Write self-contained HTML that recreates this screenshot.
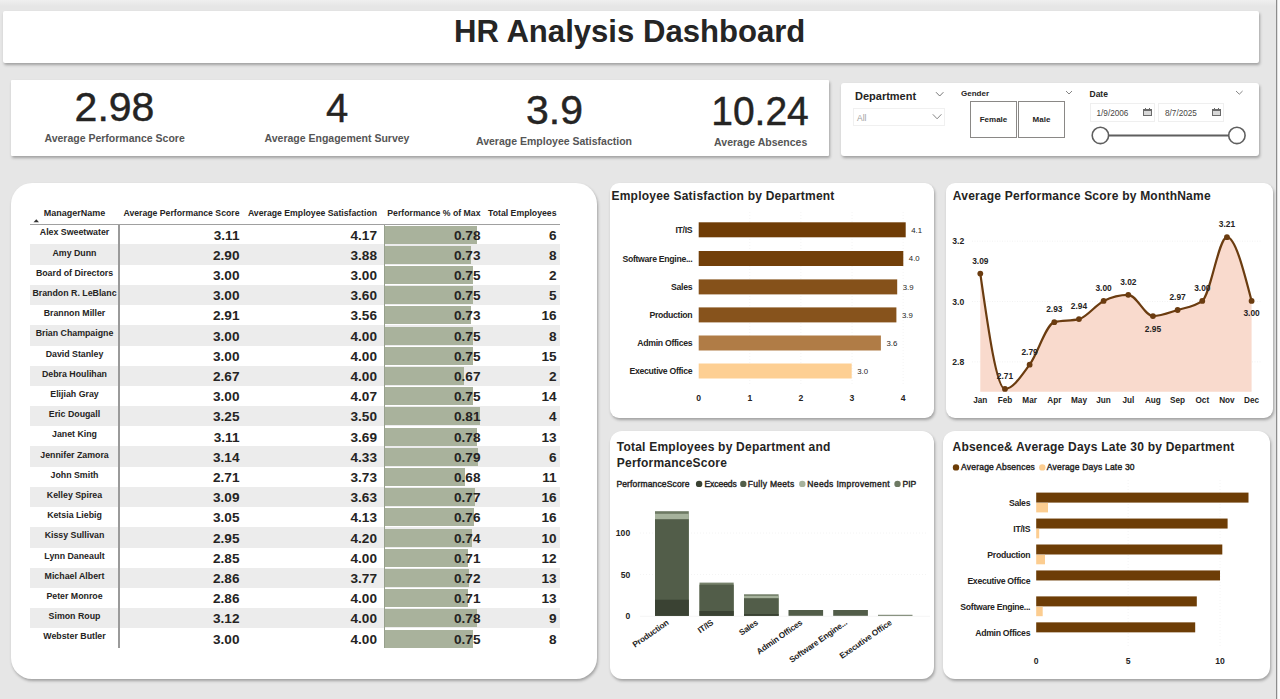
<!DOCTYPE html>
<html><head><meta charset="utf-8">
<style>
*{box-sizing:border-box;margin:0;padding:0}
html,body{width:1280px;height:699px;overflow:hidden}
body{background:#e6e6e6;font-family:"Liberation Sans",sans-serif;color:#252423;position:relative}
.a{position:absolute;white-space:nowrap}
.card{position:absolute;background:#fff;box-shadow:1px 2px 3px rgba(0,0,0,0.30)}
.b{font-weight:bold}
</style></head><body>
<div class="a" style="left:0;top:0;width:1276px;height:6px;background:linear-gradient(#efefef,#e6e6e6)"></div>
<div class="a" style="left:1276px;top:0;width:1px;height:699px;background:#8c8c8c"></div>
<div class="a" style="left:1277px;top:0;width:1px;height:699px;background:#e0e0e0"></div><div class="a" style="left:1278px;top:0;width:2px;height:699px;background:#fbfbfb"></div>

<!-- header -->
<div class="card" style="left:3px;top:11px;width:1256px;height:52px;border-radius:2px"></div>
<div class="a b" style="left:454px;top:14px;font-size:31.1px;line-height:36px;color:#252525">HR Analysis Dashboard</div>

<!-- KPI card -->
<div class="card" style="left:11px;top:80px;width:818px;height:76px;border-radius:1px"></div>

<!-- slicer card -->
<div class="card" style="left:841px;top:83.3px;width:417.5px;height:72.5px;border-radius:3px"></div>


<!-- KPI values -->
<div class="a" style="-webkit-text-stroke:0.45px #252423;left:114.5px;top:87.2px;font-size:41px;line-height:40px;color:#252423;transform:translateX(-50%)">2.98</div>
<div class="a b" style="left:114.6px;top:132px;font-size:10.5px;line-height:12px;color:#555;transform:translateX(-50%)">Average Performance Score</div>
<div class="a" style="-webkit-text-stroke:0.45px #252423;left:337px;top:87.5px;font-size:40px;line-height:40px;color:#252423;transform:translateX(-50%)">4</div>
<div class="a b" style="left:337px;top:132px;font-size:10.5px;line-height:12px;color:#555;transform:translateX(-50%)">Average Engagement Survey</div>
<div class="a" style="-webkit-text-stroke:0.45px #252423;left:554.5px;top:90px;font-size:41px;line-height:40px;color:#252423;transform:translateX(-50%)">3.9</div>
<div class="a b" style="left:554px;top:135px;font-size:10.5px;line-height:12px;color:#555;transform:translateX(-50%)">Average Employee Satisfaction</div>
<div class="a" style="-webkit-text-stroke:0.45px #252423;left:759.5px;top:91.2px;font-size:41.5px;line-height:40px;color:#252423;transform:translateX(-50%) scaleX(0.94)">10.24</div>
<div class="a b" style="left:760.7px;top:136px;font-size:10.5px;line-height:12px;color:#555;transform:translateX(-50%)">Average Absences</div>

<!-- slicers -->
<div class="a b" style="left:855px;top:89.5px;font-size:11px;line-height:12px;color:#252423">Department</div>
<svg class="a" style="left:930px;top:88px" width="20" height="12"><path d="M6 4.2 L9.7 8 L13.4 4.2" fill="none" stroke="#666" stroke-width="0.9"/></svg>
<div class="a" style="left:853px;top:107.5px;width:92px;height:18px;border:1px solid #f0f0f0"></div>
<div class="a" style="left:857px;top:113px;font-size:8.5px;line-height:10px;color:#a0a0a0">All</div>
<svg class="a" style="left:930px;top:110px" width="14" height="12"><path d="M2.8 4.3 L7.1 8.8 L11.4 4.3" fill="none" stroke="#777" stroke-width="0.9"/></svg>

<div class="a b" style="left:961px;top:88.5px;font-size:8px;line-height:10px;color:#252423">Gender</div>
<svg class="a" style="left:1062px;top:88px" width="14" height="10"><path d="M4 3 L7 6 L10 3" fill="none" stroke="#777" stroke-width="0.9"/></svg>
<div class="a" style="left:970px;top:101px;width:47px;height:36.5px;border:1px solid #8a8886"></div>
<div class="a b" style="left:970px;top:114.8px;width:47px;text-align:center;font-size:8px;line-height:10px;color:#252423">Female</div>
<div class="a" style="left:1018px;top:101px;width:47px;height:36.5px;border:1px solid #8a8886"></div>
<div class="a b" style="left:1018px;top:114.8px;width:47px;text-align:center;font-size:8px;line-height:10px;color:#252423">Male</div>

<div class="a b" style="left:1089.5px;top:89px;font-size:8.5px;line-height:10px;color:#252423">Date</div>
<svg class="a" style="left:1232px;top:88px" width="14" height="10"><path d="M4 3 L7.3 6.2 L10.6 3" fill="none" stroke="#777" stroke-width="0.9"/></svg>
<div class="a" style="left:1089.5px;top:103px;width:65px;height:18.5px;border:1px solid #efefef"></div>
<div class="a" style="left:1096.5px;top:108.5px;font-size:8.2px;line-height:10px;color:#484644">1/9/2006</div>
<svg class="a" style="left:1143px;top:108px" width="9" height="8"><rect x="1" y="3" width="7" height="4" fill="#d8d8d8"/><rect x="0.5" y="1.5" width="8" height="6" fill="none" stroke="#6a6a6a" stroke-width="1"/><rect x="0" y="1" width="9" height="2" fill="#6a6a6a"/><rect x="2" y="0" width="1" height="1.5" fill="#6a6a6a"/><rect x="6" y="0" width="1" height="1.5" fill="#6a6a6a"/></svg>
<div class="a" style="left:1158px;top:103px;width:65.5px;height:18.5px;border:1px solid #efefef"></div>
<div class="a" style="left:1165px;top:108.5px;font-size:8.2px;line-height:10px;color:#484644">8/7/2025</div>
<svg class="a" style="left:1211.5px;top:108px" width="9" height="8"><rect x="1" y="3" width="7" height="4" fill="#d8d8d8"/><rect x="0.5" y="1.5" width="8" height="6" fill="none" stroke="#6a6a6a" stroke-width="1"/><rect x="0" y="1" width="9" height="2" fill="#6a6a6a"/><rect x="2" y="0" width="1" height="1.5" fill="#6a6a6a"/><rect x="6" y="0" width="1" height="1.5" fill="#6a6a6a"/></svg>
<svg class="a" style="left:1088px;top:124px" width="162" height="24"><line x1="20.4" y1="11.4" x2="140.9" y2="11.4" stroke="#5f5f5f" stroke-width="2"/><circle cx="12.4" cy="11.4" r="8.2" fill="#fff" stroke="#5f5f5f" stroke-width="1.6"/><circle cx="148.9" cy="11.4" r="8.2" fill="#fff" stroke="#5f5f5f" stroke-width="1.6"/></svg>

<!-- table card -->
<div class="card" style="left:11px;top:183px;width:585.6px;height:496.4px;border-radius:21px"></div>

<!-- table -->
<div class="a b" style="left:30px;top:207.5px;width:89px;text-align:center;font-size:9px;line-height:10px;color:#252423">ManagerName</div>
<svg class="a" style="left:33px;top:218.5px" width="7" height="4"><path d="M0.5 3.3 L3.3 0.3 L6 3.3 Z" fill="#333"/></svg>
<div class="a b" style="right:1040.5px;top:207.5px;font-size:8.7px;line-height:10px;color:#252423">Average Performance Score</div>
<div class="a b" style="right:903px;top:207.5px;font-size:8.7px;line-height:10px;color:#252423">Average Employee Satisfaction</div>
<div class="a b" style="right:799.5px;top:207.5px;font-size:8.7px;line-height:10px;color:#252423">Performance % of Max</div>
<div class="a b" style="right:723.5px;top:207.5px;font-size:8.7px;line-height:10px;color:#252423">Total Employees</div>
<div class="a" style="left:30px;top:244.3px;width:530px;height:20.5px;background:#ececec"></div>
<div class="a" style="left:30px;top:284.7px;width:530px;height:20.5px;background:#ececec"></div>
<div class="a" style="left:30px;top:325.1px;width:530px;height:20.5px;background:#ececec"></div>
<div class="a" style="left:30px;top:365.5px;width:530px;height:20.5px;background:#ececec"></div>
<div class="a" style="left:30px;top:405.9px;width:530px;height:20.5px;background:#ececec"></div>
<div class="a" style="left:30px;top:446.3px;width:530px;height:20.5px;background:#ececec"></div>
<div class="a" style="left:30px;top:486.7px;width:530px;height:20.5px;background:#ececec"></div>
<div class="a" style="left:30px;top:527.1px;width:530px;height:20.5px;background:#ececec"></div>
<div class="a" style="left:30px;top:567.5px;width:530px;height:20.5px;background:#ececec"></div>
<div class="a" style="left:30px;top:607.9px;width:530px;height:20.5px;background:#ececec"></div>
<div class="a" style="left:384.2px;top:225.6px;width:92.4px;height:18px;background:#a9b29c"></div>
<div class="a" style="left:384.2px;top:245.8px;width:86.5px;height:18px;background:#a9b29c"></div>
<div class="a" style="left:384.2px;top:266.0px;width:88.9px;height:18px;background:#a9b29c"></div>
<div class="a" style="left:384.2px;top:286.2px;width:88.9px;height:18px;background:#a9b29c"></div>
<div class="a" style="left:384.2px;top:306.4px;width:86.5px;height:18px;background:#a9b29c"></div>
<div class="a" style="left:384.2px;top:326.6px;width:88.9px;height:18px;background:#a9b29c"></div>
<div class="a" style="left:384.2px;top:346.8px;width:88.9px;height:18px;background:#a9b29c"></div>
<div class="a" style="left:384.2px;top:367.0px;width:79.4px;height:18px;background:#a9b29c"></div>
<div class="a" style="left:384.2px;top:387.2px;width:88.9px;height:18px;background:#a9b29c"></div>
<div class="a" style="left:384.2px;top:407.4px;width:96.0px;height:18px;background:#a9b29c"></div>
<div class="a" style="left:384.2px;top:427.6px;width:92.4px;height:18px;background:#a9b29c"></div>
<div class="a" style="left:384.2px;top:447.8px;width:93.6px;height:18px;background:#a9b29c"></div>
<div class="a" style="left:384.2px;top:468.0px;width:80.6px;height:18px;background:#a9b29c"></div>
<div class="a" style="left:384.2px;top:488.2px;width:91.3px;height:18px;background:#a9b29c"></div>
<div class="a" style="left:384.2px;top:508.4px;width:90.1px;height:18px;background:#a9b29c"></div>
<div class="a" style="left:384.2px;top:528.6px;width:87.7px;height:18px;background:#a9b29c"></div>
<div class="a" style="left:384.2px;top:548.8px;width:84.1px;height:18px;background:#a9b29c"></div>
<div class="a" style="left:384.2px;top:569.0px;width:85.3px;height:18px;background:#a9b29c"></div>
<div class="a" style="left:384.2px;top:589.2px;width:84.1px;height:18px;background:#a9b29c"></div>
<div class="a" style="left:384.2px;top:609.4px;width:92.4px;height:18px;background:#a9b29c"></div>
<div class="a" style="left:384.2px;top:629.6px;width:88.9px;height:18px;background:#a9b29c"></div>
<div class="a b" style="left:30px;top:227.4px;width:89px;text-align:center;font-size:8.8px;line-height:10px;color:#252423">Alex Sweetwater</div>
<div class="a b" style="right:1040.5px;top:228.6px;font-size:13.6px;line-height:14px;color:#252423">3.11</div>
<div class="a b" style="right:903px;top:228.6px;font-size:13.6px;line-height:14px;color:#252423">4.17</div>
<div class="a b" style="right:799.5px;top:228.6px;font-size:13.6px;line-height:14px;color:#252423">0.78</div>
<div class="a b" style="right:723.5px;top:228.6px;font-size:13.6px;line-height:14px;color:#252423">6</div>
<div class="a b" style="left:30px;top:247.6px;width:89px;text-align:center;font-size:8.8px;line-height:10px;color:#252423">Amy Dunn</div>
<div class="a b" style="right:1040.5px;top:248.8px;font-size:13.6px;line-height:14px;color:#252423">2.90</div>
<div class="a b" style="right:903px;top:248.8px;font-size:13.6px;line-height:14px;color:#252423">3.88</div>
<div class="a b" style="right:799.5px;top:248.8px;font-size:13.6px;line-height:14px;color:#252423">0.73</div>
<div class="a b" style="right:723.5px;top:248.8px;font-size:13.6px;line-height:14px;color:#252423">8</div>
<div class="a b" style="left:30px;top:267.8px;width:89px;text-align:center;font-size:8.8px;line-height:10px;color:#252423">Board of Directors</div>
<div class="a b" style="right:1040.5px;top:269.0px;font-size:13.6px;line-height:14px;color:#252423">3.00</div>
<div class="a b" style="right:903px;top:269.0px;font-size:13.6px;line-height:14px;color:#252423">3.00</div>
<div class="a b" style="right:799.5px;top:269.0px;font-size:13.6px;line-height:14px;color:#252423">0.75</div>
<div class="a b" style="right:723.5px;top:269.0px;font-size:13.6px;line-height:14px;color:#252423">2</div>
<div class="a b" style="left:30px;top:288.0px;width:89px;text-align:center;font-size:8.8px;line-height:10px;color:#252423">Brandon R. LeBlanc</div>
<div class="a b" style="right:1040.5px;top:289.2px;font-size:13.6px;line-height:14px;color:#252423">3.00</div>
<div class="a b" style="right:903px;top:289.2px;font-size:13.6px;line-height:14px;color:#252423">3.60</div>
<div class="a b" style="right:799.5px;top:289.2px;font-size:13.6px;line-height:14px;color:#252423">0.75</div>
<div class="a b" style="right:723.5px;top:289.2px;font-size:13.6px;line-height:14px;color:#252423">5</div>
<div class="a b" style="left:30px;top:308.2px;width:89px;text-align:center;font-size:8.8px;line-height:10px;color:#252423">Brannon Miller</div>
<div class="a b" style="right:1040.5px;top:309.4px;font-size:13.6px;line-height:14px;color:#252423">2.91</div>
<div class="a b" style="right:903px;top:309.4px;font-size:13.6px;line-height:14px;color:#252423">3.56</div>
<div class="a b" style="right:799.5px;top:309.4px;font-size:13.6px;line-height:14px;color:#252423">0.73</div>
<div class="a b" style="right:723.5px;top:309.4px;font-size:13.6px;line-height:14px;color:#252423">16</div>
<div class="a b" style="left:30px;top:328.4px;width:89px;text-align:center;font-size:8.8px;line-height:10px;color:#252423">Brian Champaigne</div>
<div class="a b" style="right:1040.5px;top:329.6px;font-size:13.6px;line-height:14px;color:#252423">3.00</div>
<div class="a b" style="right:903px;top:329.6px;font-size:13.6px;line-height:14px;color:#252423">4.00</div>
<div class="a b" style="right:799.5px;top:329.6px;font-size:13.6px;line-height:14px;color:#252423">0.75</div>
<div class="a b" style="right:723.5px;top:329.6px;font-size:13.6px;line-height:14px;color:#252423">8</div>
<div class="a b" style="left:30px;top:348.6px;width:89px;text-align:center;font-size:8.8px;line-height:10px;color:#252423">David Stanley</div>
<div class="a b" style="right:1040.5px;top:349.8px;font-size:13.6px;line-height:14px;color:#252423">3.00</div>
<div class="a b" style="right:903px;top:349.8px;font-size:13.6px;line-height:14px;color:#252423">4.00</div>
<div class="a b" style="right:799.5px;top:349.8px;font-size:13.6px;line-height:14px;color:#252423">0.75</div>
<div class="a b" style="right:723.5px;top:349.8px;font-size:13.6px;line-height:14px;color:#252423">15</div>
<div class="a b" style="left:30px;top:368.8px;width:89px;text-align:center;font-size:8.8px;line-height:10px;color:#252423">Debra Houlihan</div>
<div class="a b" style="right:1040.5px;top:370.0px;font-size:13.6px;line-height:14px;color:#252423">2.67</div>
<div class="a b" style="right:903px;top:370.0px;font-size:13.6px;line-height:14px;color:#252423">4.00</div>
<div class="a b" style="right:799.5px;top:370.0px;font-size:13.6px;line-height:14px;color:#252423">0.67</div>
<div class="a b" style="right:723.5px;top:370.0px;font-size:13.6px;line-height:14px;color:#252423">2</div>
<div class="a b" style="left:30px;top:389.0px;width:89px;text-align:center;font-size:8.8px;line-height:10px;color:#252423">Elijiah Gray</div>
<div class="a b" style="right:1040.5px;top:390.2px;font-size:13.6px;line-height:14px;color:#252423">3.00</div>
<div class="a b" style="right:903px;top:390.2px;font-size:13.6px;line-height:14px;color:#252423">4.07</div>
<div class="a b" style="right:799.5px;top:390.2px;font-size:13.6px;line-height:14px;color:#252423">0.75</div>
<div class="a b" style="right:723.5px;top:390.2px;font-size:13.6px;line-height:14px;color:#252423">14</div>
<div class="a b" style="left:30px;top:409.2px;width:89px;text-align:center;font-size:8.8px;line-height:10px;color:#252423">Eric Dougall</div>
<div class="a b" style="right:1040.5px;top:410.4px;font-size:13.6px;line-height:14px;color:#252423">3.25</div>
<div class="a b" style="right:903px;top:410.4px;font-size:13.6px;line-height:14px;color:#252423">3.50</div>
<div class="a b" style="right:799.5px;top:410.4px;font-size:13.6px;line-height:14px;color:#252423">0.81</div>
<div class="a b" style="right:723.5px;top:410.4px;font-size:13.6px;line-height:14px;color:#252423">4</div>
<div class="a b" style="left:30px;top:429.4px;width:89px;text-align:center;font-size:8.8px;line-height:10px;color:#252423">Janet King</div>
<div class="a b" style="right:1040.5px;top:430.6px;font-size:13.6px;line-height:14px;color:#252423">3.11</div>
<div class="a b" style="right:903px;top:430.6px;font-size:13.6px;line-height:14px;color:#252423">3.69</div>
<div class="a b" style="right:799.5px;top:430.6px;font-size:13.6px;line-height:14px;color:#252423">0.78</div>
<div class="a b" style="right:723.5px;top:430.6px;font-size:13.6px;line-height:14px;color:#252423">13</div>
<div class="a b" style="left:30px;top:449.6px;width:89px;text-align:center;font-size:8.8px;line-height:10px;color:#252423">Jennifer Zamora</div>
<div class="a b" style="right:1040.5px;top:450.8px;font-size:13.6px;line-height:14px;color:#252423">3.14</div>
<div class="a b" style="right:903px;top:450.8px;font-size:13.6px;line-height:14px;color:#252423">4.33</div>
<div class="a b" style="right:799.5px;top:450.8px;font-size:13.6px;line-height:14px;color:#252423">0.79</div>
<div class="a b" style="right:723.5px;top:450.8px;font-size:13.6px;line-height:14px;color:#252423">6</div>
<div class="a b" style="left:30px;top:469.8px;width:89px;text-align:center;font-size:8.8px;line-height:10px;color:#252423">John Smith</div>
<div class="a b" style="right:1040.5px;top:471.0px;font-size:13.6px;line-height:14px;color:#252423">2.71</div>
<div class="a b" style="right:903px;top:471.0px;font-size:13.6px;line-height:14px;color:#252423">3.73</div>
<div class="a b" style="right:799.5px;top:471.0px;font-size:13.6px;line-height:14px;color:#252423">0.68</div>
<div class="a b" style="right:723.5px;top:471.0px;font-size:13.6px;line-height:14px;color:#252423">11</div>
<div class="a b" style="left:30px;top:490.0px;width:89px;text-align:center;font-size:8.8px;line-height:10px;color:#252423">Kelley Spirea</div>
<div class="a b" style="right:1040.5px;top:491.2px;font-size:13.6px;line-height:14px;color:#252423">3.09</div>
<div class="a b" style="right:903px;top:491.2px;font-size:13.6px;line-height:14px;color:#252423">3.63</div>
<div class="a b" style="right:799.5px;top:491.2px;font-size:13.6px;line-height:14px;color:#252423">0.77</div>
<div class="a b" style="right:723.5px;top:491.2px;font-size:13.6px;line-height:14px;color:#252423">16</div>
<div class="a b" style="left:30px;top:510.2px;width:89px;text-align:center;font-size:8.8px;line-height:10px;color:#252423">Ketsia Liebig</div>
<div class="a b" style="right:1040.5px;top:511.4px;font-size:13.6px;line-height:14px;color:#252423">3.05</div>
<div class="a b" style="right:903px;top:511.4px;font-size:13.6px;line-height:14px;color:#252423">4.13</div>
<div class="a b" style="right:799.5px;top:511.4px;font-size:13.6px;line-height:14px;color:#252423">0.76</div>
<div class="a b" style="right:723.5px;top:511.4px;font-size:13.6px;line-height:14px;color:#252423">16</div>
<div class="a b" style="left:30px;top:530.4px;width:89px;text-align:center;font-size:8.8px;line-height:10px;color:#252423">Kissy Sullivan</div>
<div class="a b" style="right:1040.5px;top:531.6px;font-size:13.6px;line-height:14px;color:#252423">2.95</div>
<div class="a b" style="right:903px;top:531.6px;font-size:13.6px;line-height:14px;color:#252423">4.20</div>
<div class="a b" style="right:799.5px;top:531.6px;font-size:13.6px;line-height:14px;color:#252423">0.74</div>
<div class="a b" style="right:723.5px;top:531.6px;font-size:13.6px;line-height:14px;color:#252423">10</div>
<div class="a b" style="left:30px;top:550.6px;width:89px;text-align:center;font-size:8.8px;line-height:10px;color:#252423">Lynn Daneault</div>
<div class="a b" style="right:1040.5px;top:551.8px;font-size:13.6px;line-height:14px;color:#252423">2.85</div>
<div class="a b" style="right:903px;top:551.8px;font-size:13.6px;line-height:14px;color:#252423">4.00</div>
<div class="a b" style="right:799.5px;top:551.8px;font-size:13.6px;line-height:14px;color:#252423">0.71</div>
<div class="a b" style="right:723.5px;top:551.8px;font-size:13.6px;line-height:14px;color:#252423">12</div>
<div class="a b" style="left:30px;top:570.8px;width:89px;text-align:center;font-size:8.8px;line-height:10px;color:#252423">Michael Albert</div>
<div class="a b" style="right:1040.5px;top:572.0px;font-size:13.6px;line-height:14px;color:#252423">2.86</div>
<div class="a b" style="right:903px;top:572.0px;font-size:13.6px;line-height:14px;color:#252423">3.77</div>
<div class="a b" style="right:799.5px;top:572.0px;font-size:13.6px;line-height:14px;color:#252423">0.72</div>
<div class="a b" style="right:723.5px;top:572.0px;font-size:13.6px;line-height:14px;color:#252423">13</div>
<div class="a b" style="left:30px;top:591.0px;width:89px;text-align:center;font-size:8.8px;line-height:10px;color:#252423">Peter Monroe</div>
<div class="a b" style="right:1040.5px;top:592.2px;font-size:13.6px;line-height:14px;color:#252423">2.86</div>
<div class="a b" style="right:903px;top:592.2px;font-size:13.6px;line-height:14px;color:#252423">4.00</div>
<div class="a b" style="right:799.5px;top:592.2px;font-size:13.6px;line-height:14px;color:#252423">0.71</div>
<div class="a b" style="right:723.5px;top:592.2px;font-size:13.6px;line-height:14px;color:#252423">13</div>
<div class="a b" style="left:30px;top:611.2px;width:89px;text-align:center;font-size:8.8px;line-height:10px;color:#252423">Simon Roup</div>
<div class="a b" style="right:1040.5px;top:612.4px;font-size:13.6px;line-height:14px;color:#252423">3.12</div>
<div class="a b" style="right:903px;top:612.4px;font-size:13.6px;line-height:14px;color:#252423">4.00</div>
<div class="a b" style="right:799.5px;top:612.4px;font-size:13.6px;line-height:14px;color:#252423">0.78</div>
<div class="a b" style="right:723.5px;top:612.4px;font-size:13.6px;line-height:14px;color:#252423">9</div>
<div class="a b" style="left:30px;top:631.4px;width:89px;text-align:center;font-size:8.8px;line-height:10px;color:#252423">Webster Butler</div>
<div class="a b" style="right:1040.5px;top:632.6px;font-size:13.6px;line-height:14px;color:#252423">3.00</div>
<div class="a b" style="right:903px;top:632.6px;font-size:13.6px;line-height:14px;color:#252423">4.00</div>
<div class="a b" style="right:799.5px;top:632.6px;font-size:13.6px;line-height:14px;color:#252423">0.75</div>
<div class="a b" style="right:723.5px;top:632.6px;font-size:13.6px;line-height:14px;color:#252423">8</div>
<div class="a" style="left:30px;top:224px;width:530px;height:1px;background:#a0a0a0"></div>
<div class="a" style="left:383.8px;top:225px;width:1px;height:423px;background:#97a08d"></div>
<div class="a" style="left:118.3px;top:224.5px;width:1.5px;height:423.3px;background:#9a9a9a"></div>
<!-- /table -->
<!-- chart cards -->
<div class="card" style="left:609.5px;top:183px;width:324.5px;height:235px;border-radius:9px"></div>
<div class="card" style="left:946px;top:183px;width:326.8px;height:235px;border-radius:9px"></div>
<div class="card" style="left:609.5px;top:431px;width:324.5px;height:248px;border-radius:12px"></div>
<div class="card" style="left:943px;top:431px;width:327px;height:248px;border-radius:12px"></div>

<!-- charts -->
<svg class="a" style="left:0;top:0" width="1280" height="699" viewBox="0 0 1280 699">
<text x="611.5" y="200.0" font-size="12" font-weight="bold" text-anchor="start" fill="#252423" letter-spacing="0.22">Employee Satisfaction by Department</text>
<line x1="749.8" y1="212" x2="749.8" y2="386" stroke="#f4f4f4" stroke-width="1" stroke-dasharray="1,2"/>
<line x1="800.9" y1="212" x2="800.9" y2="386" stroke="#f4f4f4" stroke-width="1" stroke-dasharray="1,2"/>
<line x1="852.0" y1="212" x2="852.0" y2="386" stroke="#f4f4f4" stroke-width="1" stroke-dasharray="1,2"/>
<line x1="903.1" y1="212" x2="903.1" y2="386" stroke="#f4f4f4" stroke-width="1" stroke-dasharray="1,2"/>
<rect x="698.7" y="222.3" width="207.0" height="15" fill="#6f3c06"/>
<text x="692.3" y="232.8" font-size="8.7" font-weight="bold" text-anchor="end" fill="#252423" letter-spacing="-0.3">IT/IS</text>
<text x="911.2" y="232.5" font-size="7.8"  text-anchor="start" fill="#252423" >4.1</text>
<rect x="698.7" y="251" width="204.6" height="15" fill="#723f09"/>
<text x="692.3" y="261.5" font-size="8.7" font-weight="bold" text-anchor="end" fill="#252423" letter-spacing="-0.3">Software Engine...</text>
<text x="908.8" y="261.2" font-size="7.8"  text-anchor="start" fill="#252423" >4.0</text>
<rect x="698.7" y="279.4" width="198.5" height="15" fill="#85511a"/>
<text x="692.3" y="289.9" font-size="8.7" font-weight="bold" text-anchor="end" fill="#252423" letter-spacing="-0.3">Sales</text>
<text x="902.7" y="289.6" font-size="7.8"  text-anchor="start" fill="#252423" >3.9</text>
<rect x="698.7" y="307.4" width="197.7" height="15" fill="#87531c"/>
<text x="692.3" y="317.9" font-size="8.7" font-weight="bold" text-anchor="end" fill="#252423" letter-spacing="-0.3">Production</text>
<text x="901.9" y="317.6" font-size="7.8"  text-anchor="start" fill="#252423" >3.9</text>
<rect x="698.7" y="335.5" width="182.2" height="15" fill="#b07c46"/>
<text x="692.3" y="346.0" font-size="8.7" font-weight="bold" text-anchor="end" fill="#252423" letter-spacing="-0.3">Admin Offices</text>
<text x="886.4" y="345.7" font-size="7.8"  text-anchor="start" fill="#252423" >3.6</text>
<rect x="698.7" y="363.5" width="153.0" height="15" fill="#fdcf93"/>
<text x="692.3" y="374.0" font-size="8.7" font-weight="bold" text-anchor="end" fill="#252423" letter-spacing="-0.3">Executive Office</text>
<text x="857.2" y="373.7" font-size="7.8"  text-anchor="start" fill="#252423" >3.0</text>
<text x="698.7" y="401.3" font-size="8.6" font-weight="bold" text-anchor="middle" fill="#252423" >0</text>
<text x="749.8" y="401.3" font-size="8.6" font-weight="bold" text-anchor="middle" fill="#252423" >1</text>
<text x="800.9" y="401.3" font-size="8.6" font-weight="bold" text-anchor="middle" fill="#252423" >2</text>
<text x="852.0" y="401.3" font-size="8.6" font-weight="bold" text-anchor="middle" fill="#252423" >3</text>
<text x="903.1" y="401.3" font-size="8.6" font-weight="bold" text-anchor="middle" fill="#252423" >4</text>
<text x="952.8" y="200.0" font-size="12" font-weight="bold" text-anchor="start" fill="#252423" letter-spacing="0.22">Average Performance Score by MonthName</text>
<line x1="972" y1="241.2" x2="1262" y2="241.2" stroke="#f2f2f2" stroke-width="1" stroke-dasharray="1,1.5"/>
<text x="952.3" y="244.3" font-size="8.6" font-weight="bold" text-anchor="start" fill="#252423" >3.2</text>
<line x1="972" y1="301.5" x2="1262" y2="301.5" stroke="#f2f2f2" stroke-width="1" stroke-dasharray="1,1.5"/>
<text x="952.3" y="304.6" font-size="8.6" font-weight="bold" text-anchor="start" fill="#252423" >3.0</text>
<line x1="972" y1="361.9" x2="1262" y2="361.9" stroke="#f2f2f2" stroke-width="1" stroke-dasharray="1,1.5"/>
<text x="952.3" y="365.0" font-size="8.6" font-weight="bold" text-anchor="start" fill="#252423" >2.8</text>
<path d="M980.30,273.59 C988.52,331.25 996.74,388.91 1004.96,388.91 C1013.18,388.91 1021.41,375.76 1029.63,364.63 C1037.85,353.51 1046.07,324.17 1054.29,322.14 C1062.51,320.12 1070.73,321.13 1078.95,319.11 C1087.18,317.09 1095.40,304.95 1103.62,300.90 C1111.84,296.85 1120.06,294.83 1128.28,294.83 C1136.50,294.83 1144.72,316.07 1152.95,316.07 C1161.17,316.07 1169.39,312.53 1177.61,310.00 C1185.83,307.48 1194.05,306.97 1202.27,300.90 C1210.49,294.83 1218.72,237.16 1226.94,237.16 C1235.16,237.16 1243.38,269.03 1251.60,300.90 L1251.60,391.8 L980.30,391.8 Z" fill="#f9dacd"/>
<path d="M980.30,273.59 C988.52,331.25 996.74,388.91 1004.96,388.91 C1013.18,388.91 1021.41,375.76 1029.63,364.63 C1037.85,353.51 1046.07,324.17 1054.29,322.14 C1062.51,320.12 1070.73,321.13 1078.95,319.11 C1087.18,317.09 1095.40,304.95 1103.62,300.90 C1111.84,296.85 1120.06,294.83 1128.28,294.83 C1136.50,294.83 1144.72,316.07 1152.95,316.07 C1161.17,316.07 1169.39,312.53 1177.61,310.00 C1185.83,307.48 1194.05,306.97 1202.27,300.90 C1210.49,294.83 1218.72,237.16 1226.94,237.16 C1235.16,237.16 1243.38,269.03 1251.60,300.90" fill="none" stroke="#6b3c10" stroke-width="2.2" stroke-linejoin="round"/>
<circle cx="980.30" cy="273.59" r="2.9" fill="#6b3c10"/>
<circle cx="1004.96" cy="388.91" r="2.9" fill="#6b3c10"/>
<circle cx="1029.63" cy="364.63" r="2.9" fill="#6b3c10"/>
<circle cx="1054.29" cy="322.14" r="2.9" fill="#6b3c10"/>
<circle cx="1078.95" cy="319.11" r="2.9" fill="#6b3c10"/>
<circle cx="1103.62" cy="300.90" r="2.9" fill="#6b3c10"/>
<circle cx="1128.28" cy="294.83" r="2.9" fill="#6b3c10"/>
<circle cx="1152.95" cy="316.07" r="2.9" fill="#6b3c10"/>
<circle cx="1177.61" cy="310.00" r="2.9" fill="#6b3c10"/>
<circle cx="1202.27" cy="300.90" r="2.9" fill="#6b3c10"/>
<circle cx="1226.94" cy="237.16" r="2.9" fill="#6b3c10"/>
<circle cx="1251.60" cy="300.90" r="2.9" fill="#6b3c10"/>
<text x="980.3" y="263.8" font-size="8.4" font-weight="bold" text-anchor="middle" fill="#252423" >3.09</text>
<text x="1005.0" y="379.1" font-size="8.4" font-weight="bold" text-anchor="middle" fill="#252423" >2.71</text>
<text x="1029.6" y="354.8" font-size="8.4" font-weight="bold" text-anchor="middle" fill="#252423" >2.79</text>
<text x="1054.3" y="312.3" font-size="8.4" font-weight="bold" text-anchor="middle" fill="#252423" >2.93</text>
<text x="1079.0" y="309.3" font-size="8.4" font-weight="bold" text-anchor="middle" fill="#252423" >2.94</text>
<text x="1103.6" y="291.1" font-size="8.4" font-weight="bold" text-anchor="middle" fill="#252423" >3.00</text>
<text x="1128.3" y="285.0" font-size="8.4" font-weight="bold" text-anchor="middle" fill="#252423" >3.02</text>
<text x="1152.9" y="331.5" font-size="8.4" font-weight="bold" text-anchor="middle" fill="#252423" >2.95</text>
<text x="1177.6" y="300.2" font-size="8.4" font-weight="bold" text-anchor="middle" fill="#252423" >2.97</text>
<text x="1202.3" y="291.1" font-size="8.4" font-weight="bold" text-anchor="middle" fill="#252423" >3.00</text>
<text x="1226.9" y="227.4" font-size="8.4" font-weight="bold" text-anchor="middle" fill="#252423" >3.21</text>
<text x="1251.6" y="316.3" font-size="8.4" font-weight="bold" text-anchor="middle" fill="#252423" >3.00</text>
<text x="980.3" y="402.7" font-size="8.2" font-weight="bold" text-anchor="middle" fill="#252423" >Jan</text>
<text x="1005.0" y="402.7" font-size="8.2" font-weight="bold" text-anchor="middle" fill="#252423" >Feb</text>
<text x="1029.6" y="402.7" font-size="8.2" font-weight="bold" text-anchor="middle" fill="#252423" >Mar</text>
<text x="1054.3" y="402.7" font-size="8.2" font-weight="bold" text-anchor="middle" fill="#252423" >Apr</text>
<text x="1079.0" y="402.7" font-size="8.2" font-weight="bold" text-anchor="middle" fill="#252423" >May</text>
<text x="1103.6" y="402.7" font-size="8.2" font-weight="bold" text-anchor="middle" fill="#252423" >Jun</text>
<text x="1128.3" y="402.7" font-size="8.2" font-weight="bold" text-anchor="middle" fill="#252423" >Jul</text>
<text x="1152.9" y="402.7" font-size="8.2" font-weight="bold" text-anchor="middle" fill="#252423" >Aug</text>
<text x="1177.6" y="402.7" font-size="8.2" font-weight="bold" text-anchor="middle" fill="#252423" >Sep</text>
<text x="1202.3" y="402.7" font-size="8.2" font-weight="bold" text-anchor="middle" fill="#252423" >Oct</text>
<text x="1226.9" y="402.7" font-size="8.2" font-weight="bold" text-anchor="middle" fill="#252423" >Nov</text>
<text x="1251.6" y="402.7" font-size="8.2" font-weight="bold" text-anchor="middle" fill="#252423" >Dec</text>
<text x="616.8" y="450.6" font-size="12" font-weight="bold" text-anchor="start" fill="#252423" letter-spacing="0.22">Total Employees by Department and</text>
<text x="616.8" y="466.9" font-size="12" font-weight="bold" text-anchor="start" fill="#252423" letter-spacing="0.22">PerformanceScore</text>
<text x="616.4" y="486.7" font-size="8.5"  text-anchor="start" fill="#252423" letter-spacing="0.15" stroke="#252423" stroke-width="0.4">PerformanceScore</text>
<circle cx="699.1" cy="483.9" r="3.2" fill="#3a4233"/>
<text x="704.5" y="486.7" font-size="8.5"  text-anchor="start" fill="#252423" letter-spacing="-0.05" stroke="#252423" stroke-width="0.4">Exceeds</text>
<circle cx="743.3" cy="483.9" r="3.2" fill="#525d49"/>
<text x="747.8" y="486.7" font-size="8.5"  text-anchor="start" fill="#252423" letter-spacing="0.3" stroke="#252423" stroke-width="0.4">Fully Meets</text>
<circle cx="802.3" cy="483.9" r="3.2" fill="#a6b29c"/>
<text x="807.3" y="486.7" font-size="8.5"  text-anchor="start" fill="#252423" letter-spacing="0.36" stroke="#252423" stroke-width="0.4">Needs Improvement</text>
<circle cx="897.5" cy="483.9" r="3.2" fill="#6d7963"/>
<text x="902.5" y="486.7" font-size="8.5"  text-anchor="start" fill="#252423" letter-spacing="0" stroke="#252423" stroke-width="0.4">PIP</text>
<line x1="640" y1="533.0" x2="926" y2="533.0" stroke="#f4f4f4" stroke-width="1" stroke-dasharray="1,2"/>
<text x="630.2" y="536.1" font-size="8.6" font-weight="bold" text-anchor="end" fill="#252423" >100</text>
<line x1="640" y1="574.5" x2="926" y2="574.5" stroke="#f4f4f4" stroke-width="1" stroke-dasharray="1,2"/>
<text x="630.2" y="577.6" font-size="8.6" font-weight="bold" text-anchor="end" fill="#252423" >50</text>
<line x1="640" y1="616.3" x2="930" y2="616.3" stroke="#f3f3f3" stroke-width="0.8"/>
<text x="630.2" y="619.0" font-size="8.6" font-weight="bold" text-anchor="end" fill="#252423" >0</text>
<rect x="655" y="511.2" width="33.8" height="104.60" fill="#6d7963"/>
<rect x="655" y="513.8" width="33.8" height="102.00" fill="#a6b29c"/>
<rect x="655" y="519.2" width="33.8" height="96.60" fill="#525d49"/>
<rect x="655" y="599.7" width="33.8" height="16.10" fill="#3a4233"/>
<rect x="699.5" y="582.6" width="34.2" height="33.20" fill="#77826b"/>
<rect x="699.5" y="584.7" width="34.2" height="31.10" fill="#525d49"/>
<rect x="699.5" y="611" width="34.2" height="4.80" fill="#3a4233"/>
<rect x="744" y="594.3" width="34.6" height="21.50" fill="#6d7963"/>
<rect x="744" y="595.8" width="34.6" height="20.00" fill="#a6b29c"/>
<rect x="744" y="598.2" width="34.6" height="17.60" fill="#525d49"/>
<rect x="744" y="614" width="34.6" height="1.80" fill="#3a4233"/>
<rect x="788.5" y="610" width="34.6" height="5.80" fill="#525d49"/>
<rect x="833.2" y="610" width="34.7" height="5.80" fill="#525d49"/>
<rect x="878" y="614.8" width="34.5" height="1.00" fill="#6d7963"/>
<text x="0" y="0" font-size="8.3" font-weight="bold" letter-spacing="-0.2" text-anchor="end" fill="#252423" transform="translate(669.2,623.9) rotate(-35)">Production</text>
<text x="0" y="0" font-size="8.3" font-weight="bold" letter-spacing="-0.2" text-anchor="end" fill="#252423" transform="translate(713.8,623.9) rotate(-35)">IT/IS</text>
<text x="0" y="0" font-size="8.3" font-weight="bold" letter-spacing="-0.2" text-anchor="end" fill="#252423" transform="translate(758.5,623.9) rotate(-35)">Sales</text>
<text x="0" y="0" font-size="8.3" font-weight="bold" letter-spacing="-0.2" text-anchor="end" fill="#252423" transform="translate(803.0,623.9) rotate(-35)">Admin Offices</text>
<text x="0" y="0" font-size="8.3" font-weight="bold" letter-spacing="-0.2" text-anchor="end" fill="#252423" transform="translate(847.7,623.9) rotate(-35)">Software Engine...</text>
<text x="0" y="0" font-size="8.3" font-weight="bold" letter-spacing="-0.2" text-anchor="end" fill="#252423" transform="translate(892.4,623.9) rotate(-35)">Executive Office</text>
<text x="952.5" y="450.6" font-size="12" font-weight="bold" text-anchor="start" fill="#252423" letter-spacing="0.22">Absence&amp; Average Days Late 30 by Department</text>
<circle cx="956" cy="467.4" r="3.2" fill="#6d3d06"/>
<text x="961.1" y="470.3" font-size="8.5"  text-anchor="start" fill="#252423" letter-spacing="0.2" stroke="#252423" stroke-width="0.4">Average Absences</text>
<circle cx="1042.3" cy="467.4" r="3.2" fill="#fccd90"/>
<text x="1046.8" y="470.3" font-size="8.5"  text-anchor="start" fill="#252423" letter-spacing="0.2" stroke="#252423" stroke-width="0.4">Average Days Late 30</text>
<line x1="1128.1" y1="480" x2="1128.1" y2="648" stroke="#f4f4f4" stroke-width="1" stroke-dasharray="1,2"/>
<line x1="1220.0" y1="480" x2="1220.0" y2="648" stroke="#f4f4f4" stroke-width="1" stroke-dasharray="1,2"/>
<rect x="1036.2" y="492.60" width="212.3" height="10" fill="#6d3d06"/>
<rect x="1036.2" y="502.90" width="11.8" height="9.5" fill="#fccd90"/>
<text x="1030.2" y="505.7" font-size="8.7" font-weight="bold" text-anchor="end" fill="#252423" letter-spacing="-0.3">Sales</text>
<rect x="1036.2" y="518.55" width="191.4" height="10" fill="#6d3d06"/>
<rect x="1036.2" y="528.85" width="3.0" height="9.5" fill="#fccd90"/>
<text x="1030.2" y="531.7" font-size="8.7" font-weight="bold" text-anchor="end" fill="#252423" letter-spacing="-0.3">IT/IS</text>
<rect x="1036.2" y="544.50" width="186.1" height="10" fill="#6d3d06"/>
<rect x="1036.2" y="554.80" width="8.8" height="9.5" fill="#fccd90"/>
<text x="1030.2" y="557.6" font-size="8.7" font-weight="bold" text-anchor="end" fill="#252423" letter-spacing="-0.3">Production</text>
<rect x="1036.2" y="570.45" width="183.8" height="10" fill="#6d3d06"/>
<text x="1030.2" y="583.6" font-size="8.7" font-weight="bold" text-anchor="end" fill="#252423" letter-spacing="-0.3">Executive Office</text>
<rect x="1036.2" y="596.40" width="160.6" height="10" fill="#6d3d06"/>
<rect x="1036.2" y="606.70" width="6.5" height="9.5" fill="#fccd90"/>
<text x="1030.2" y="609.5" font-size="8.7" font-weight="bold" text-anchor="end" fill="#252423" letter-spacing="-0.3">Software Engine...</text>
<rect x="1036.2" y="622.35" width="159.0" height="10" fill="#6d3d06"/>
<text x="1030.2" y="635.5" font-size="8.7" font-weight="bold" text-anchor="end" fill="#252423" letter-spacing="-0.3">Admin Offices</text>
<text x="1036.2" y="664.2" font-size="8.6" font-weight="bold" text-anchor="middle" fill="#252423" >0</text>
<text x="1128.1" y="664.2" font-size="8.6" font-weight="bold" text-anchor="middle" fill="#252423" >5</text>
<text x="1220.0" y="664.2" font-size="8.6" font-weight="bold" text-anchor="middle" fill="#252423" >10</text>
</svg>
<!-- /charts -->
</body></html>
